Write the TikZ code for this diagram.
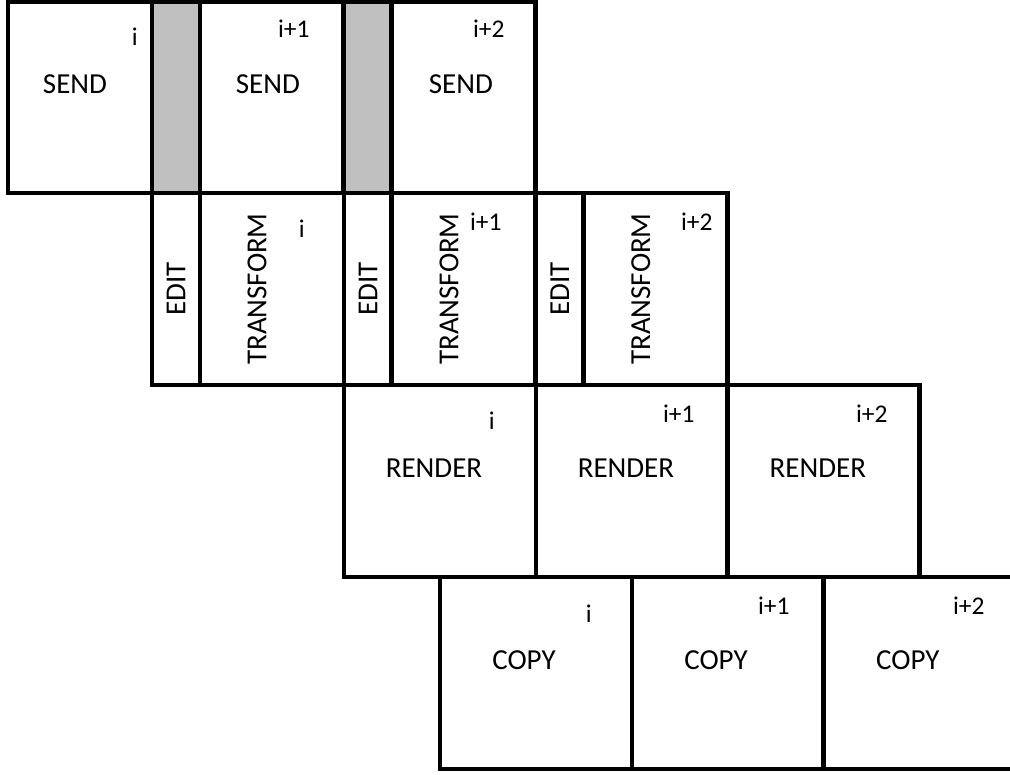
\documentclass[tikz,border=0pt]{standalone}
\usepackage{fontspec}
\setmainfont{Carlito}
\usetikzlibrary{positioning}
\definecolor{slotgray}{HTML}{C0C0C0}

\begin{document}
\begin{tikzpicture}[
    x=0.02cm, y=-0.02cm,
    node distance=0pt,
    stage/.style={rectangle, draw=black, line width=2.8pt, inner sep=0pt, outer sep=0pt, minimum height=3.84cm},
    narrow/.style={stage, minimum width=2.88cm},
    slim/.style={stage, minimum width=0.96cm},
    wide/.style={stage, minimum width=3.84cm},
    gap/.style={slim, fill=slotgray},
    tall/.style={minimum height=3.82cm},
    task/.style={font=\fontsize{16.5}{18}\selectfont, inner sep=0pt},
    vtask/.style={task, rotate=90},
    idx/.style={font=\fontsize{14.5}{16}\selectfont, inner sep=0pt, anchor=base east}
]
\useasboundingbox (0,0) rectangle (1010,774);
\clip (0,0) rectangle (1010,774);

% send
\node[narrow, tall, anchor=north west] (send1) at (8,2) {};
\node[gap, tall, right=of send1] (gap1) {};
\node[narrow, tall, right=of gap1] (send2) {};
\node[gap, tall, right=of send2] (gap2) {};
\node[narrow, tall, right=of gap2] (send3) {};

% edit + transform
\node[slim, anchor=north west] (edit1) at (152,193) {};
\node[narrow, right=of edit1] (trans1) {};
\node[slim, right=of trans1] (edit2) {};
\node[narrow, right=of edit2] (trans2) {};
\node[slim, right=of trans2] (edit3) {};
\node[narrow, right=of edit3] (trans3) {};

% render
\node[wide, anchor=north west] (render1) at (344,385) {};
\node[wide, right=of render1] (render2) {};
\node[wide, right=of render2] (render3) {};

% copy
\node[wide, anchor=north west] (copy1) at (440,577) {};
\node[wide, right=of copy1] (copy2) {};
\node[wide, right=of copy2] (copy3) {};

% stage names
\node[task] (send1txt) at ([shift={(-5,-13)}]send1.center) {SEND};
\node[task] (send2txt) at ([shift={(-4,-13)}]send2.center) {SEND};
\node[task] (send3txt) at ([shift={(-3,-13)}]send3.center) {SEND};
\node[vtask] (edit1txt) at (edit1.center) {EDIT};
\node[vtask] (edit2txt) at (edit2.center) {EDIT};
\node[vtask] (edit3txt) at (edit3.center) {EDIT};
\node[vtask] (trans1txt) at ([shift={(-15,0)}]trans1.center) {TRANSFORM};
\node[vtask] (trans2txt) at ([shift={(-15,0)}]trans2.center) {TRANSFORM};
\node[vtask] (trans3txt) at ([shift={(-15,0)}]trans3.center) {TRANSFORM};
\node[task] (render1txt) at ([shift={(-6,-13)}]render1.center) {RENDER};
\node[task] (render2txt) at ([shift={(-6,-13)}]render2.center) {RENDER};
\node[task] (render3txt) at ([shift={(-6,-13)}]render3.center) {RENDER};
\node[task] (copy1txt) at ([shift={(-12,-13)}]copy1.center) {COPY};
\node[task] (copy2txt) at ([shift={(-12,-13)}]copy2.center) {COPY};
\node[task] (copy3txt) at ([shift={(-12,-13)}]copy3.center) {COPY};

% frame indices
\node[idx] (send1idx) at ([shift={(-14,43)}]send1.north east) {i};
\node[idx] (send2idx) at ([shift={(-34,35)}]send2.north east) {i+1};
\node[idx] (send3idx) at ([shift={(-31,35)}]send3.north east) {i+2};
\node[idx] (trans1idx) at ([shift={(-39,44)}]trans1.north east) {i};
\node[idx] (trans2idx) at ([shift={(-34,37)}]trans2.north east) {i+1};
\node[idx] (trans3idx) at ([shift={(-15,37)}]trans3.north east) {i+2};
\node[idx] (render1idx) at ([shift={(-41,44)}]render1.north east) {i};
\node[idx] (render2idx) at ([shift={(-33,37)}]render2.north east) {i+1};
\node[idx] (render3idx) at ([shift={(-32,37)}]render3.north east) {i+2};
\node[idx] (copy1idx) at ([shift={(-40,45)}]copy1.north east) {i};
\node[idx] (copy2idx) at ([shift={(-34,37)}]copy2.north east) {i+1};
\node[idx] (copy3idx) at ([shift={(-31,37)}]copy3.north east) {i+2};
\end{tikzpicture}
\end{document}
